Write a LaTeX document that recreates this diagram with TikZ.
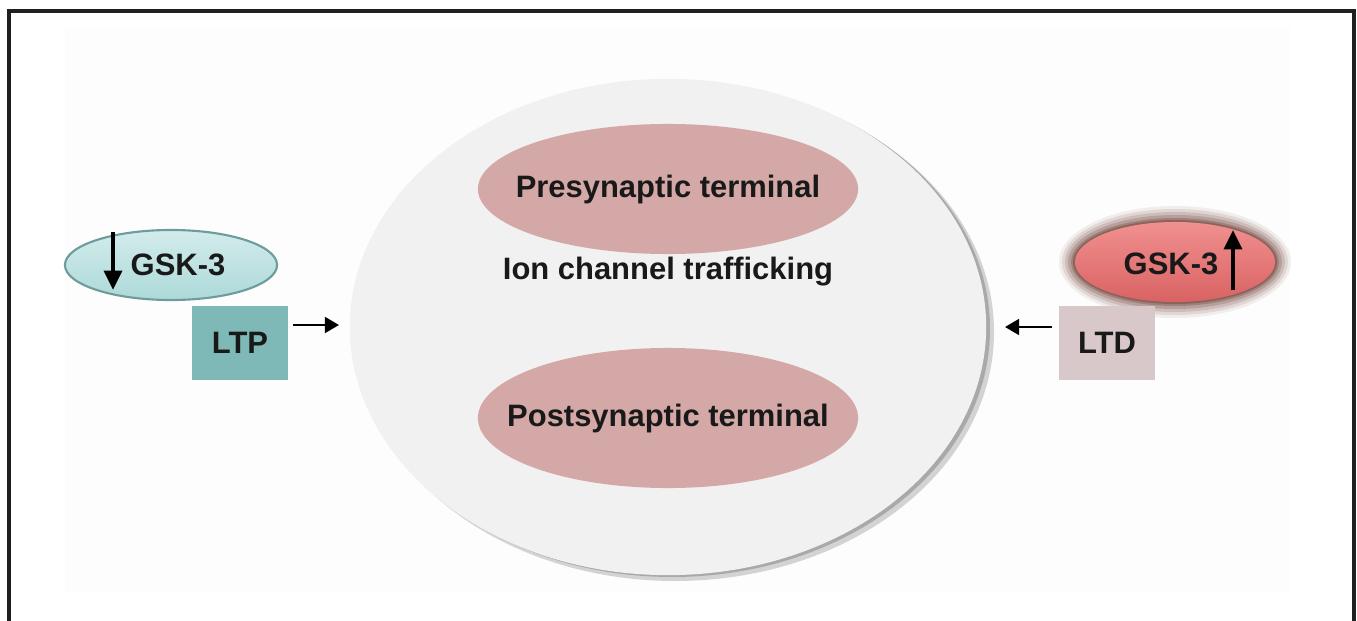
\documentclass[tikz,border=0pt]{standalone}
\usepackage{fontspec}
\setmainfont{Liberation Sans}
\usetikzlibrary{shapes.geometric,arrows.meta}
\definecolor{circfill}{HTML}{F1F1F1}
\definecolor{pinkfill}{HTML}{D4A8A6}
\definecolor{cyanfill}{HTML}{C0E3E3}
\definecolor{cyanedge}{HTML}{6E9C9C}
\definecolor{tealbox}{HTML}{7EB9B8}
\definecolor{redfill}{HTML}{EC6B6B}
\definecolor{redhalo}{HTML}{6B3A30}
\definecolor{ltdbox}{HTML}{D9C8CA}
\definecolor{framec}{HTML}{231F20}
\definecolor{bgfaint}{HTML}{FDFDFD}
\tikzset{
  lbl/.style={font=\fontsize{8.8}{10}\selectfont\bfseries, text=black!90, inner sep=0pt},
  ell/.style={ellipse, inner sep=0pt},
  sqbox/.style={rectangle, inner sep=0pt, minimum width=0.95cm, minimum height=0.73cm, lbl},
  flowarrow/.style={line width=0.65pt, -{Triangle[length=4pt,width=4.5pt]}},
  updown/.style={line width=1.3pt, -{Triangle[length=5.5pt,width=5pt]}}
}
\begin{document}
\begin{tikzpicture}[x=0.01cm,y=-0.01cm]
\useasboundingbox (0,0) rectangle (1357,621);
% frame (open at bottom)
\draw[framec, line width=1.1pt] (9,621) -- (9,11) -- (1354,11) -- (1354,621);
% faint background
\fill[bgfaint] (65,27) rectangle (1290,593);
% main circle with shadow
\fill[black!55, opacity=0.3] (675,332) ellipse [x radius=319, y radius=249];
\fill[black!50, opacity=0.5] (672,329) ellipse [x radius=318, y radius=248];
\node[ell, fill=circfill, minimum width=6.36cm, minimum height=4.96cm] (cell) at (668,327) {};
% terminals
\node[ell, fill=pinkfill, minimum width=3.8cm, minimum height=1.3cm] (pre) at (668,189) {};
\node[lbl] (pretxt) at (pre.center) {Presynaptic terminal};
\node[ell, fill=pinkfill, minimum width=3.8cm, minimum height=1.4cm] (post) at (668,418) {};
\node[lbl] (posttxt) at (post.center) {Postsynaptic terminal};
\node[lbl] (ion) at (668,272) {Ion channel trafficking};
% left side
\node[ell, draw=cyanedge, line width=0.6pt, top color=cyanfill!70!white, bottom color=cyanfill!90!teal, minimum width=2.12cm, minimum height=0.7cm] (gskl) at (171,265) {};
\node[lbl, anchor=west] (gskltxt) at (130,265) {GSK-3};
\coordinate (dl1) at (113,232);
\coordinate (dl2) at (113,290);
\draw[updown] (dl1) -- (dl2);
\node[sqbox, fill=tealbox] (ltp) at (240,343) {LTP};
\coordinate (ltpend) at (339,325);
\path (ltp.east |- ltpend) ++(5,0) coordinate (ltpstart);
\draw[flowarrow] (ltpstart) -- (ltpend);
% right side
\foreach \k/\o in {16/0.08,13/0.12,10/0.16,7/0.22,4/0.3,2/0.4}{
  \fill[redhalo, opacity=\o] (1175,262) ellipse [x radius={100+\k}, y radius={40+\k}];
}
\node[ell, top color=redfill!75!white, bottom color=redfill!92!black, minimum width=2.0cm, minimum height=0.8cm] (gskr) at (1175,262) {};
\node[lbl, anchor=east] (gskrtxt) at (1219,264) {GSK-3};
\coordinate (ur1) at (1233,290);
\coordinate (ur2) at (1233,230);
\draw[updown] (ur1) -- (ur2);
\node[sqbox, fill=ltdbox] (ltd) at (1107,343) {LTD};
\coordinate (ltdend) at (1005,327);
\path (ltd.west |- ltdend) ++(-7,0) coordinate (ltdstart);
\draw[flowarrow] (ltdstart) -- (ltdend);
\end{tikzpicture}
\end{document}
